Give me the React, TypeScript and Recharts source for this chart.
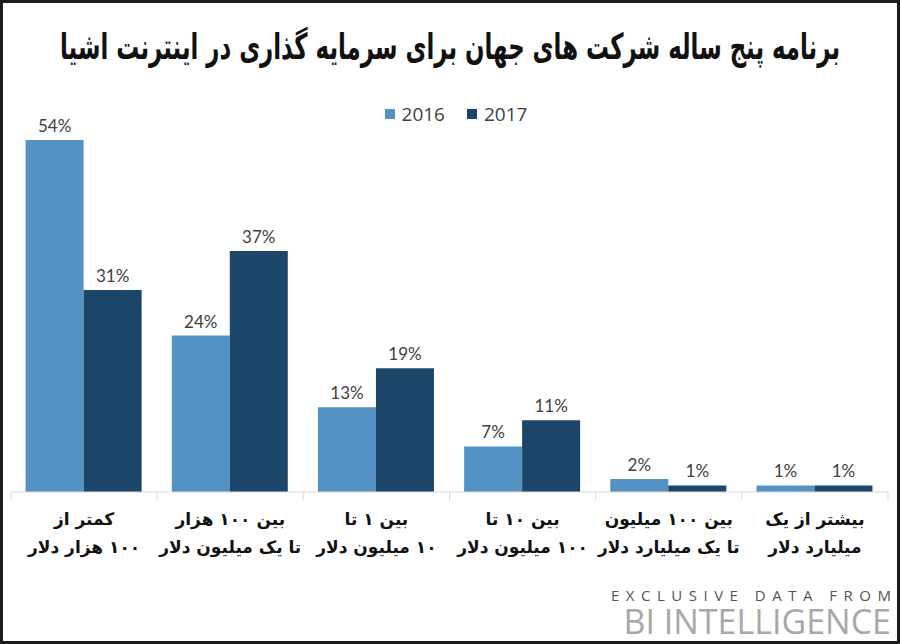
import React from "react";
import { BarChart, Bar, XAxis, YAxis, LabelList } from "recharts";

const title = "برنامه پنج ساله شرکت های جهان برای سرمایه گذاری در اینترنت اشیا";
const categoriesLine1 = ["کمتر از", "بین ۱۰۰ هزار", "بین ۱ تا", "بین ۱۰ تا", "بین ۱۰۰ میلیون", "بیشتر از یک"];
const categoriesLine2 = ["۱۰۰ هزار دلار", "تا یک میلیون دلار", "۱۰ میلیون دلار", "۱۰۰ میلیون دلار", "تا یک میلیارد دلار", "میلیارد دلار"];
const values2016 = [54, 24, 13, 7, 2, 1];
const values2017 = [31, 37, 19, 11, 1, 1];
const seriesNames = ["2016", "2017"];
const seriesColors = ["#5592c4", "#1b4569"];
const sourceLine1 = "EXCLUSIVE DATA FROM";
const sourceLine2 = "BI INTELLIGENCE";

const data = categoriesLine1.map((c, i) => ({
  name: c,
  line2: categoriesLine2[i],
  v2016: values2016[i],
  v2017: values2017[i],
}));

const W = 900;
const H = 644;
const M = { top: 101, right: 12, left: 11, bottom: 92 };
const BAND = (W - M.left - M.right) / categoriesLine1.length;
const PERSIAN = "'DejaVu Sans', 'Noto Sans', sans-serif";
const LATIN = "Lato, 'Open Sans', sans-serif";

const Tick = (props: any) => {
  const { x, y, index } = props;
  const axisY = y - 8;
  const last = index === categoriesLine1.length - 1;
  return (
    <g>
      <line x1={x - BAND / 2} x2={x - BAND / 2} y1={axisY} y2={axisY + 8} stroke="#d9d9d9" />
      {last && <line x1={x + BAND / 2} x2={x + BAND / 2} y1={axisY} y2={axisY + 8} stroke="#d9d9d9" />}
      <text x={x} y={axisY + 33} textAnchor="middle" direction="rtl" fontFamily={PERSIAN} fontWeight="bold" fontSize={17} fill="#111">
        {categoriesLine1[index]}
      </text>
      <text x={x} y={axisY + 61} textAnchor="middle" direction="rtl" fontFamily={PERSIAN} fontWeight="bold" fontSize={17} fill="#111">
        {categoriesLine2[index]}
      </text>
    </g>
  );
};

const pct = (v: any) => `${v}%`;

export default function App() {
  return (
    <div
      style={{
        position: "absolute",
        left: 0,
        top: 0,
        width: W,
        height: H,
        boxSizing: "border-box",
        border: "3px solid #1c1c1c",
        background: "#fff",
        overflow: "hidden",
      }}
    >
      <svg style={{ position: "absolute", left: -3, top: -3 }} width={W} height={90}>
        <text
          transform="translate(450,59) scale(0.715,1.12)"
          x={0}
          y={0}
          textAnchor="middle"
          direction="rtl"
          fontFamily={PERSIAN}
          fontWeight="bold"
          fontSize={32}
          fill="#111"
        >
          {title}
        </text>
      </svg>
      <div
        style={{
          position: "absolute",
          left: 3,
          top: 98,
          width: W,
          display: "flex",
          justifyContent: "center",
          gap: 22,
          fontFamily: "'Liberation Sans Narrow', 'Open Sans', sans-serif",
          fontSize: 19,
          color: "#404040",
        }}
      >
        {seriesNames.map((n, i) => (
          <div key={n} style={{ display: "flex", alignItems: "center" }}>
            <span style={{ display: "inline-block", width: 10, height: 10, background: seriesColors[i], marginRight: 7 }} />
            <span>{n}</span>
          </div>
        ))}
      </div>
      <div style={{ position: "absolute", left: -3, top: -3 }}>
        <BarChart width={W} height={H} data={data} margin={M} barCategoryGap="10%" barGap={0}>
          <XAxis
            dataKey="name"
            height={60}
            axisLine={{ stroke: "#d9d9d9" }}
            tickLine={false}
            tick={<Tick />}
            interval={0}
          />
          <YAxis hide domain={[0, 60]} />
          <Bar dataKey="v2016" name={seriesNames[0]} fill={seriesColors[0]} isAnimationActive={false}>
            <LabelList dataKey="v2016" position="top" formatter={pct} fill="#404040" fontSize={17} fontFamily={LATIN} offset={8} />
          </Bar>
          <Bar dataKey="v2017" name={seriesNames[1]} fill={seriesColors[1]} isAnimationActive={false}>
            <LabelList dataKey="v2017" position="top" formatter={pct} fill="#404040" fontSize={17} fontFamily={LATIN} offset={8} />
          </Bar>
        </BarChart>
      </div>
      <div
        style={{
          position: "absolute",
          right: 6,
          top: 585,
          fontFamily: "'Open Sans', sans-serif",
          fontSize: 15,
          lineHeight: "15px",
          letterSpacing: 6.5,
          marginRight: -6.5,
          color: "#555",
          whiteSpace: "nowrap",
        }}
      >
        {sourceLine1}
      </div>
      <div
        style={{
          position: "absolute",
          right: 6,
          top: 603,
          fontFamily: "'Open Sans', sans-serif",
          fontSize: 34,
          lineHeight: "30px",
          color: "#a8a8a8",
          whiteSpace: "nowrap",
        }}
      >
        {sourceLine2}
      </div>
    </div>
  );
}
